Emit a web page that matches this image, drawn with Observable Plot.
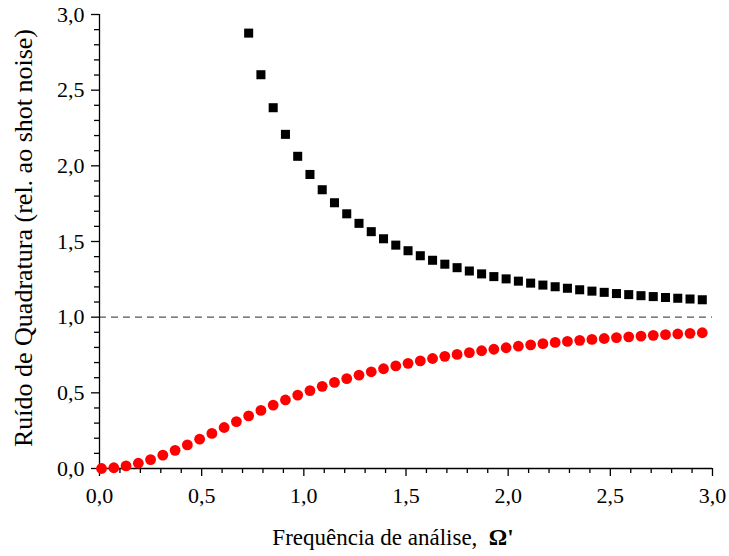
<!DOCTYPE html>
<html>
<head>
<meta charset="utf-8">
<script src="https://cdn.jsdelivr.net/npm/d3@7"></script>
<script src="https://cdn.jsdelivr.net/npm/@observablehq/plot@0.6"></script>
<style>
  html, body { margin: 0; padding: 0; background: #fff; }
  #chart svg { display: block; }
</style>
</head>
<body>
<div id="chart"></div>
<script>
// Analysis frequency (Ω') for the red series (all points)
const freqRed = [0.01,0.07,0.13,0.19,0.25,0.31,0.37,0.43,0.49,0.55,0.61,0.67,0.73,0.79,0.85,0.91,0.97,1.03,1.09,1.15,1.21,1.27,1.33,1.39,1.45,1.51,1.57,1.63,1.69,1.75,1.81,1.87,1.93,1.99,2.05,2.11,2.17,2.23,2.29,2.35,2.41,2.47,2.53,2.59,2.65,2.71,2.77,2.83,2.89,2.95];
const noiseRed = [0.00,0.005,0.017,0.035,0.059,0.088,0.12,0.156,0.194,0.232,0.271,0.310,0.348,0.384,0.419,0.453,0.485,0.515,0.543,0.569,0.594,0.617,0.639,0.659,0.678,0.695,0.711,0.727,0.741,0.754,0.766,0.778,0.788,0.798,0.808,0.817,0.825,0.833,0.840,0.847,0.853,0.859,0.865,0.870,0.875,0.880,0.885,0.889,0.893,0.897];
// Black series (squares)
const freqBlack = [0.73,0.79,0.85,0.91,0.97,1.03,1.09,1.15,1.21,1.27,1.33,1.39,1.45,1.51,1.57,1.63,1.69,1.75,1.81,1.87,1.93,1.99,2.05,2.11,2.17,2.23,2.29,2.35,2.41,2.47,2.53,2.59,2.65,2.71,2.77,2.83,2.89,2.95];
const noiseBlack = [2.877,2.602,2.384,2.208,2.063,1.943,1.842,1.756,1.683,1.620,1.565,1.518,1.476,1.439,1.406,1.376,1.350,1.327,1.305,1.286,1.268,1.253,1.238,1.225,1.212,1.201,1.191,1.181,1.172,1.164,1.156,1.149,1.142,1.136,1.130,1.125,1.120,1.115];
const majorTicks = [0, 0.5, 1.0, 1.5, 2.0, 2.5, 3.0];
const minorTicks = [0.1,0.2,0.3,0.4,0.6,0.7,0.8,0.9,1.1,1.2,1.3,1.4,1.6,1.7,1.8,1.9,2.1,2.2,2.3,2.4,2.6,2.7,2.8,2.9];
const shotNoise = [1.0];
const xTitle = "Frequência de análise,";
const xSymbol = "Ω'";
const yTitle = "Ruído de Quadratura (rel. ao shot noise)";

const red = freqRed.map((x, i) => ({x, y: noiseRed[i]}));
const black = freqBlack.map((x, i) => ({x, y: noiseBlack[i]}));
const fmt = d => d.toFixed(1).replace(".", ",");

const plot = Plot.plot({
  width: 729,
  height: 556,
  marginLeft: 99,
  marginRight: 17,
  marginTop: 14,
  marginBottom: 88,
  style: {fontFamily: "'Liberation Serif', 'Times New Roman', serif", fontSize: "22px", color: "#000", background: "#fff"},
  x: {domain: [0, 3], label: null},
  y: {domain: [0, 3], label: null},
  marks: [
    Plot.ruleY(shotNoise, {stroke: "#555", strokeWidth: 1.2, strokeDasharray: "7,5"}),
    Plot.axisX(minorTicks, {tickSize: 5, tickFormat: null, text: null, strokeWidth: 1.3}),
    Plot.axisX(majorTicks, {tickSize: 8, tickPadding: 11, tickFormat: fmt, strokeWidth: 1.3, fontSize: 22}),
    Plot.axisY(minorTicks, {tickSize: 5, tickFormat: null, text: null, strokeWidth: 1.3}),
    Plot.axisY(majorTicks, {tickSize: 8, tickPadding: 7, tickFormat: fmt, strokeWidth: 1.3, fontSize: 22}),
    Plot.ruleX([0], {y1: 0, y2: 3, strokeWidth: 1.3}),
    Plot.ruleY([0], {x1: 0, x2: 3, strokeWidth: 1.3}),
    Plot.dot(red, {x: "x", y: "y", r: 5.4, fill: "#ff0000", stroke: null}),
    Plot.dot(black, {x: "x", y: "y", r: 5.1, symbol: "square", fill: "#000", stroke: null})
  ]
});

const svg = d3.select(plot);
svg.selectAll("text").each(function() {
  this.style.fontSize = "22px";
  this.style.fontFamily = "'Liberation Serif', 'Times New Roman', serif";
});

const xt = svg.append("text")
  .attr("x", 393).attr("y", 545)
  .attr("text-anchor", "middle")
  .style("font-size", "23px")
  .style("font-family", "'Liberation Serif', 'Times New Roman', serif")
  .attr("fill", "#000");
xt.append("tspan").text(xTitle + "\u00a0\u00a0");
xt.append("tspan").attr("font-weight", "bold").text(xSymbol);

svg.append("text")
  .attr("transform", "translate(32,238) rotate(-90)")
  .attr("text-anchor", "middle")
  .style("font-size", "26px")
  .style("font-family", "'Liberation Serif', 'Times New Roman', serif")
  .attr("fill", "#000")
  .text(yTitle);

document.getElementById("chart").appendChild(plot);
</script>
</body>
</html>
